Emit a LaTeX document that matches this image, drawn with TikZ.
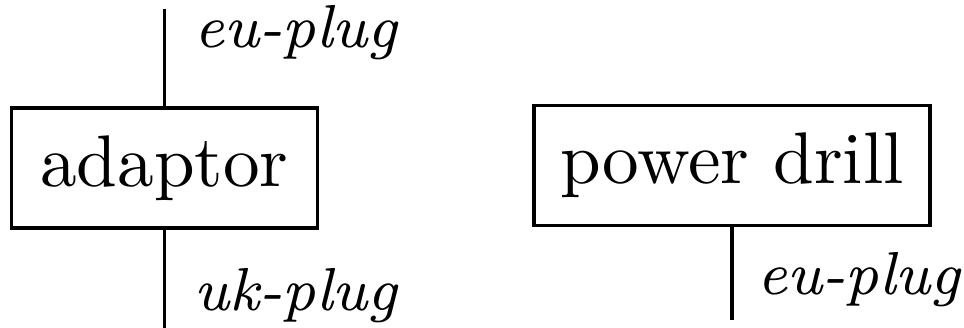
\documentclass[tikz,border=0pt]{standalone}
\usepackage{tikz}
\usetikzlibrary{positioning}

\begin{document}
\begin{tikzpicture}[
  x=0.1367pt, y=-0.1367pt,
  every node/.style={font=\normalsize},
  box/.style={draw, line width=0.5pt, inner sep=0pt, minimum height=16.4pt},
  wire/.style={line width=0.5pt},
  lbl/.style={anchor=base west, inner sep=0pt,
    font=\fontsize{8.3}{10}\selectfont\itshape}
]
\useasboundingbox (0,0) rectangle (964,328);

\node[box, minimum width=41.8pt] (adaptor) at (164.5,168) {adaptor};
\node[box, minimum width=54.1pt] (drill) at (732,165.5) {power drill};

\coordinate (eu-in) at (164.5,9);
\coordinate (uk-out) at (164.5,330);
\coordinate (eu-out) at (732,320);

\draw[wire] (adaptor.north) -- (eu-in);
\draw[wire] (adaptor.south) -- (uk-out);
\draw[wire] (drill.south) -- (eu-out);

\node[lbl] (eu-in-lbl) at (193,48) {eu-plug};
\node[lbl] (uk-out-lbl) at (193,311) {uk-plug};
\node[lbl] (eu-out-lbl) at (756,295) {eu-plug};
\end{tikzpicture}
\end{document}
